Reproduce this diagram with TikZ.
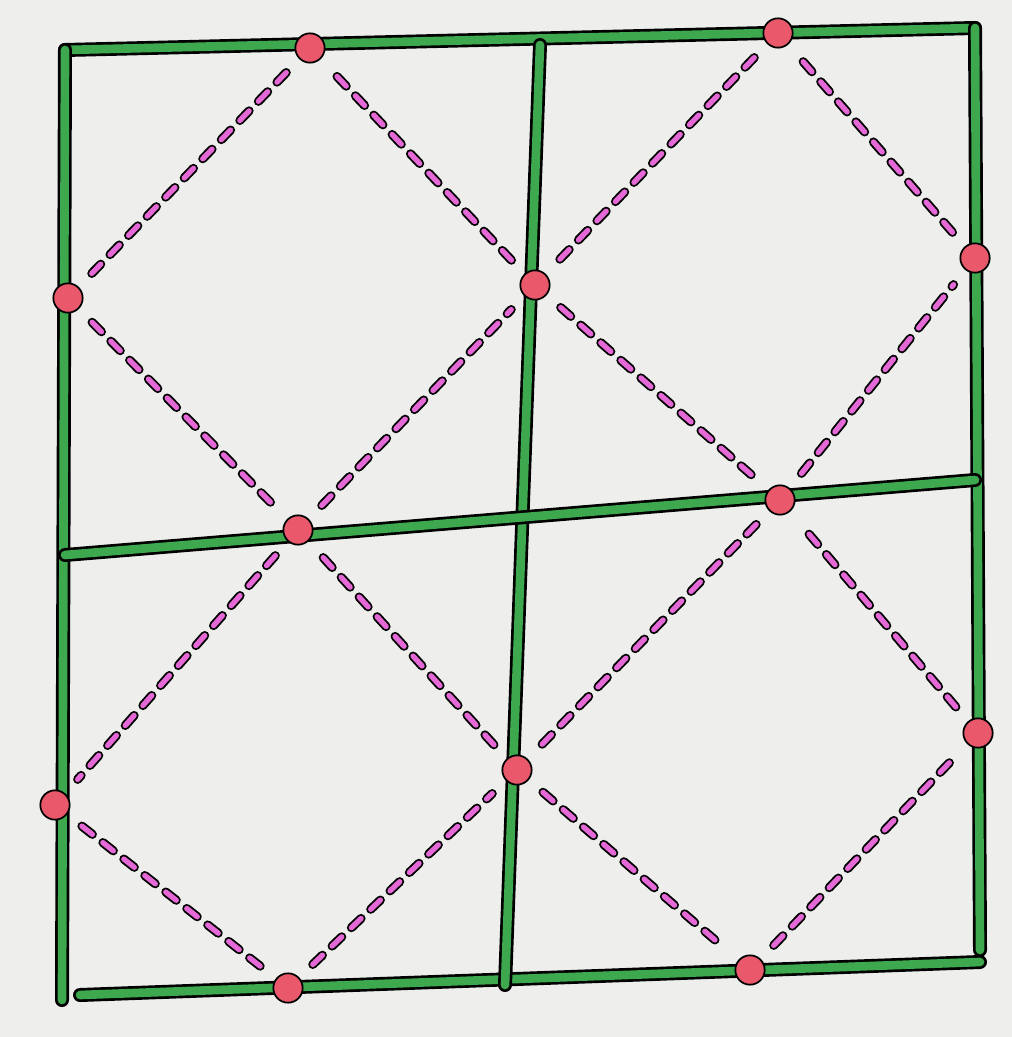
\documentclass[tikz,border=0pt]{standalone}
\usepackage{tikz}

\definecolor{papel}{RGB}{238,238,236}
\definecolor{verde}{RGB}{62,168,78}
\definecolor{rosa}{RGB}{228,104,214}
\definecolor{ponto}{RGB}{234,88,108}

\tikzset{
  moldura/.style={draw=black, line width=2pt, double=verde,
    double distance=6.5pt, line cap=round},
  tracejado/.style={draw=black, line width=1.4pt, double=rosa,
    double distance=4pt, line cap=round, dash pattern=on 10pt off 10pt,
    shorten <=14pt, shorten >=14pt},
  marca/.style={circle, fill=ponto, draw=black, line width=1.3pt,
    minimum size=22pt, inner sep=0pt}
}

\begin{document}
\begin{tikzpicture}[x=0.75pt,y=-0.75pt]
  % Fundo.
  \fill[papel] (0,0) rectangle (1012,1037);
  \useasboundingbox (0,0) rectangle (1012,1037);

  % Cantos e cruzamentos da grade.
  \coordinate (ae) at (65,50);
  \coordinate (ad) at (975,28);
  \coordinate (be) at (62,1000);
  \coordinate (bd) at (980,950);
  \coordinate (bi) at (80,995);
  \coordinate (bf) at (980,962);
  \coordinate (mc) at (540,45);
  \coordinate (mb) at (505,985);
  \coordinate (me) at (65,555);
  \coordinate (md) at (975,480);

  % Grade verde.
  \draw[moldura] (ae) -- (ad);
  \draw[moldura] (ae) -- (be);
  \draw[moldura] (ad) -- (bd);
  \draw[moldura] (bi) -- (bf);
  \draw[moldura] (mc) -- (mb);
  \draw[moldura] (me) -- (md);

  % Pontos sobre a grade.
  \node[marca] (p1) at (310,48) {};
  \node[marca] (p2) at (778,33) {};
  \node[marca] (p3) at (68,298) {};
  \node[marca] (p4) at (535,285) {};
  \node[marca] (p5) at (975,258) {};
  \node[marca] (p6) at (298,530) {};
  \node[marca] (p7) at (780,500) {};
  \node[marca] (p8) at (55,805) {};
  \node[marca] (p9) at (517,770) {};
  \node[marca] (p10) at (978,733) {};
  \node[marca] (p11) at (288,988) {};
  \node[marca] (p12) at (750,970) {};

  % Losangos tracejados.
  \foreach \a/\b in {p1/p3, p3/p6, p6/p4, p4/p1,
                     p2/p4, p4/p7, p7/p5, p5/p2,
                     p6/p8, p8/p11, p11/p9, p9/p6,
                     p7/p9, p9/p12, p12/p10, p10/p7}
    \draw[tracejado] (\a) -- (\b);
\end{tikzpicture}
\end{document}
